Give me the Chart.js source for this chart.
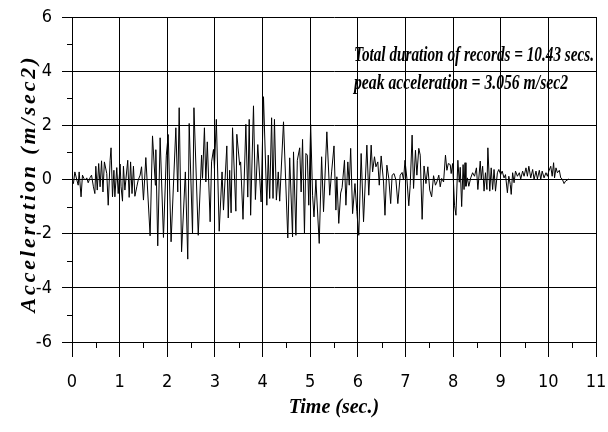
<!DOCTYPE html>
<html>
<head>
<meta charset="utf-8">
<script src="https://cdn.jsdelivr.net/npm/chart.js@4.4.1/dist/chart.umd.min.js"></script>
<style>
  html, body { margin: 0; padding: 0; background: #fff; }
  #wrap { width: 608px; height: 432px; }
</style>
</head>
<body>
<div id="wrap"><canvas id="accChart" width="608" height="432"></canvas></div>
<script>
// time (s) and acceleration (m/sec2)
const timeSec = [
  0.00, 0.03, 0.06, 0.10, 0.13, 0.15, 0.19, 0.22, 0.25, 0.28,
  0.31, 0.34, 0.38, 0.41, 0.45, 0.48, 0.50, 0.53, 0.56, 0.59,
  0.62, 0.65, 0.68, 0.73, 0.76, 0.80, 0.82, 0.85, 0.88, 0.90,
  0.94, 0.97, 1.01, 1.03, 1.06, 1.08, 1.11, 1.13, 1.17, 1.20,
  1.23, 1.26, 1.29, 1.32, 1.36, 1.39, 1.43, 1.46, 1.50, 1.55,
  1.64, 1.69, 1.75, 1.76, 1.80, 1.85, 1.92, 1.98, 2.02, 2.08,
  2.18, 2.22, 2.25, 2.30, 2.38, 2.43, 2.46, 2.53, 2.56, 2.65,
  2.72, 2.74, 2.78, 2.81, 2.84, 2.90, 2.93, 2.97, 2.99, 3.03,
  3.09, 3.15, 3.18, 3.25, 3.28, 3.31, 3.34, 3.37, 3.44, 3.46,
  3.52, 3.54, 3.59, 3.65, 3.69, 3.72, 3.75, 3.81, 3.85, 3.90,
  3.97, 4.02, 4.09, 4.12, 4.15, 4.19, 4.22, 4.25, 4.29, 4.33,
  4.36, 4.44, 4.53, 4.57, 4.63, 4.65, 4.70, 4.73, 4.78, 4.81,
  4.84, 4.88, 4.91, 4.94, 4.97, 5.01, 5.05, 5.08, 5.12, 5.19,
  5.24, 5.28, 5.35, 5.41, 5.45, 5.50, 5.54, 5.56, 5.60, 5.64,
  5.67, 5.72, 5.75, 5.79, 5.82, 5.85, 5.89, 5.94, 5.98, 6.02,
  6.07, 6.12, 6.19, 6.23, 6.28, 6.31, 6.35, 6.38, 6.42, 6.45,
  6.49, 6.54, 6.57, 6.61, 6.65, 6.69, 6.72, 6.76, 6.80, 6.84,
  6.89, 6.93, 6.96, 6.99, 7.03, 7.07, 7.10, 7.14, 7.17, 7.21,
  7.24, 7.28, 7.31, 7.35, 7.39, 7.43, 7.47, 7.51, 7.55, 7.59,
  7.63, 7.66, 7.70, 7.73, 7.76, 7.80, 7.84, 7.87, 7.90, 7.94,
  7.96, 7.99, 8.03, 8.06, 8.10, 8.13, 8.15, 8.18, 8.21, 8.23,
  8.25, 8.27, 8.30, 8.33, 8.37, 8.41, 8.45, 8.49, 8.52, 8.57,
  8.59, 8.62, 8.65, 8.68, 8.71, 8.73, 8.77, 8.80, 8.83, 8.86,
  8.89, 8.93, 8.96, 9.00, 9.03, 9.07, 9.10, 9.14, 9.17, 9.20,
  9.22, 9.25, 9.28, 9.31, 9.35, 9.39, 9.42, 9.46, 9.49, 9.53,
  9.56, 9.59, 9.63, 9.67, 9.70, 9.74, 9.77, 9.81, 9.84, 9.87,
  9.91, 9.95, 9.98, 10.01, 10.05, 10.08, 10.11, 10.13, 10.16, 10.19,
  10.23, 10.26, 10.29, 10.33, 10.36, 10.43
];
const accel = [
  -0.09, -0.15, 0.28, 0.00, -0.21, 0.28, -0.64, 0.16, 0.04, -0.02,
  0.06, -0.12, 0.07, 0.16, -0.27, -0.52, 0.49, -0.39, 0.59, -0.27,
  0.69, -0.46, 0.65, 0.22, -0.95, 0.71, 1.17, -0.64, 0.34, -0.64,
  0.44, -0.52, 0.57, -0.27, -0.80, 0.49, -0.39, -0.02, 0.71, -0.66,
  0.65, -0.52, 0.49, -0.62, -0.27, -0.02, 0.16, 0.47, -0.76, 0.81,
  -2.08, 1.61, -0.21, 1.10, -2.45, 1.54, -2.14, 0.90, 1.66, -2.30,
  1.91, -0.46, 2.65, -2.67, 0.28, -2.94, 2.07, -2.00, 2.65, -2.06,
  0.90, 0.04, 1.91, -0.09, 1.39, -1.56, 0.65, 1.11, 0.41, 2.22,
  -1.91, 0.28, -1.13, 1.24, -1.42, 0.34, -1.23, 1.91, -1.17, 1.67,
  0.53, 0.65, -1.47, 2.04, -0.65, 2.22, -1.32, 2.72, -0.74, 1.29,
  -0.83, 3.056, -0.95, 0.90, -0.70, 2.28, -0.70, 2.22, -0.76, 0.28,
  -0.80, 2.13, -2.16, 0.80, -2.12, 1.02, -2.06, 0.71, 1.17, -0.46,
  1.48, -2.00, 0.96, 0.90, -0.95, 2.03, -0.58, -1.38, -0.02, -2.36,
  0.84, -1.19, 1.76, -0.58, 0.28, 1.24, -1.13, 0.10, -1.62, -0.50,
  -0.30, 0.71, -0.95, 0.65, -0.21, 1.15, -1.26, -0.15, -1.19, -2.06,
  0.96, -1.56, 1.27, -0.58, 1.27, 0.28, 0.84, 0.47, 0.65, -0.21,
  0.87, -0.09, -1.32, 0.53, 0.04, -0.89, 0.16, 0.22, -0.02, -0.89,
  0.16, 0.26, -0.02, 0.71, 0.04, -0.97, -0.21, 1.64, -0.33, 1.08,
  0.16, 1.15, 0.90, -1.47, 0.50, -0.15, 0.47, -0.39, -0.64, 0.14,
  -0.21, -0.09, 0.16, -0.27, 0.04, -0.09, 0.90, 0.34, 0.59, 0.55,
  0.22, 0.59, -0.95, -1.32, 0.71, -0.10, 0.45, -1.00, 0.55, -0.37,
  0.62, -0.25, 0.06, -0.25, 0.06, 0.25, 0.12, 0.43, -0.37, 0.68,
  0.00, 0.49, -0.43, 0.25, -0.37, 1.17, -0.43, 0.43, -0.37, 0.37,
  -0.43, 0.25, 0.37, 0.18, 0.31, 0.06, 0.18, -0.49, 0.12, -0.18,
  -0.55, 0.25, -0.12, 0.31, 0.12, 0.25, 0.02, 0.31, 0.12, 0.43,
  0.12, 0.49, 0.06, 0.37, 0.00, 0.31, 0.02, 0.34, 0.00, 0.31,
  0.06, 0.25, 0.12, 0.31, 0.49, 0.12, 0.62, 0.06, 0.43, 0.25,
  0.34, 0.06, 0.02, -0.15, -0.06, 0.02
];

// minor tick positions
const xMinorTicks = [0.5, 1.5, 2.5, 3.5, 4.5, 5.5, 6.5, 7.5, 8.5, 9.5, 10.5];
const yMinorTicks = [-5, -3, -1, 1, 3, 5];

const xTitle = 'Time (sec.)';
const yTitle = 'Acceleration (m/sec2)';
const noteLines = ['Total duration of records = 10.43 secs.', 'peak acceleration = 3.056 m/sec2'];

const narrowFont = "'DejaVu Sans Condensed', 'Liberation Sans Narrow', 'Arial Narrow', 'Liberation Sans', sans-serif";
const serifFont = "'Liberation Serif', 'Times New Roman', serif";

const points = timeSec.map((t, i) => ({ x: t, y: accel[i] }));

const minorTicks = {
    id: 'minorTicks',
    afterDraw(chart) {
        const { ctx, scales: { x, y } } = chart;
        ctx.save();
        ctx.strokeStyle = '#000';
        ctx.lineWidth = 1;
        ctx.beginPath();
        xMinorTicks.forEach(v => {
            const px = Math.round(x.getPixelForValue(v)) + 0.5;
            ctx.moveTo(px, y.bottom);
            ctx.lineTo(px, y.bottom + 6);
        });
        yMinorTicks.forEach(v => {
            const py = Math.round(y.getPixelForValue(v)) + 0.5;
            ctx.moveTo(x.left - 5, py);
            ctx.lineTo(x.left, py);
        });
        ctx.stroke();
        ctx.restore();
    }
};

// spaced-out vertical axis title
const yAxisTitle = {
    id: 'yAxisTitle',
    afterDraw(chart) {
        const { ctx } = chart;
        const span = 255;
        ctx.save();
        ctx.font = 'italic bold 22px ' + serifFont;
        ctx.fillStyle = '#000';
        ctx.textBaseline = 'middle';
        const chars = yTitle.split('');
        const widths = chars.map(c => ctx.measureText(c).width);
        const natural = widths.reduce((a, b) => a + b, 0);
        const gap = (span - natural) / (chars.length - 1);
        ctx.translate(29, 185);
        ctx.rotate(-Math.PI / 2);
        let pos = -span / 2;
        chars.forEach((c, i) => {
            ctx.fillText(c, pos, 0);
            pos += widths[i] + gap;
        });
        ctx.restore();
    }
};

// note in the upper right
const noteText = {
    id: 'noteText',
    afterDraw(chart) {
        const { ctx } = chart;
        const targets = [{ w: 240, y: 56 }, { w: 214, y: 84 }];
        ctx.save();
        ctx.font = 'italic bold 20px ' + serifFont;
        ctx.fillStyle = '#000';
        ctx.textBaseline = 'middle';
        noteLines.forEach((txt, i) => {
            const w = ctx.measureText(txt).width;
            ctx.save();
            ctx.translate(354, targets[i].y);
            ctx.scale(targets[i].w / w, 1);
            ctx.fillText(txt, 0, 0);
            ctx.restore();
        });
        ctx.restore();
    }
};

const ctx = document.getElementById('accChart').getContext('2d');

new Chart(ctx, {
    type: 'line',
    data: {
        datasets: [{
            data: points,
            borderColor: '#000',
            borderWidth: 1,
            pointRadius: 0,
            tension: 0,
            fill: false
        }]
    },
    options: {
        responsive: false,
        animation: false,
        layout: { padding: { top: 17, right: 12, left: 0, bottom: 0 } },
        plugins: {
            legend: { display: false },
            tooltip: { enabled: false }
        },
        scales: {
            x: {
                type: 'linear',
                min: 0,
                max: 11,
                ticks: {
                    stepSize: 1,
                    color: '#000',
                    padding: 15,
                    maxRotation: 0,
                    font: { family: narrowFont, size: 18 }
                },
                grid: { color: '#000', lineWidth: 1, tickLength: 15 },
                border: { color: '#000' },
                title: {
                    display: true,
                    text: xTitle,
                    color: '#000',
                    font: { family: serifFont, size: 20, style: 'italic', weight: 'bold' },
                    padding: { top: 0, bottom: 12 }
                },
                afterFit(scale) {
                    scale.height = 90;
                    scale.paddingLeft = 0;
                    scale.paddingRight = 0;
                }
            },
            y: {
                min: -6,
                max: 6,
                ticks: {
                    stepSize: 2,
                    color: '#000',
                    padding: 10,
                    font: { family: narrowFont, size: 18 }
                },
                grid: { color: '#000', lineWidth: 1, tickLength: 10 },
                border: { color: '#000' },
                afterFit(scale) {
                    scale.width = 72;
                    scale.paddingTop = 0;
                    scale.paddingBottom = 0;
                }
            }
        }
    },
    plugins: [minorTicks, yAxisTitle, noteText]
});
</script>
</body>
</html>
